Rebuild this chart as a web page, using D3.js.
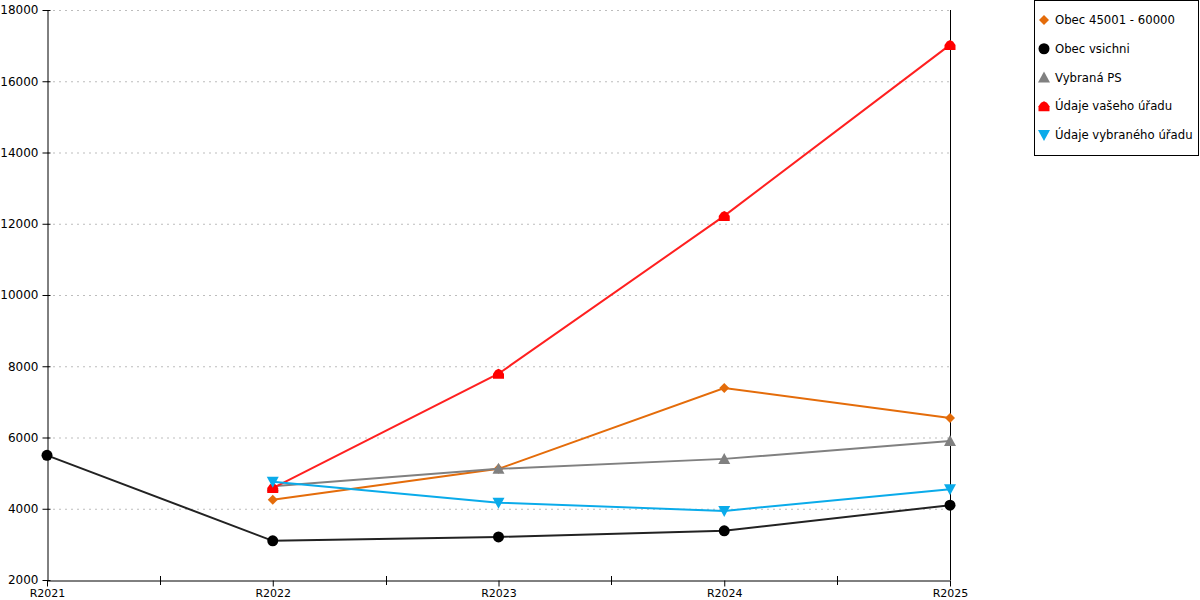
<!DOCTYPE html>
<html>
<head>
<meta charset="utf-8">
<script src="https://cdn.jsdelivr.net/npm/d3@7"></script>
<style>
  body { margin: 0; background: #fff; }
  svg { font-family: "DejaVu Sans", sans-serif; }
</style>
</head>
<body>
<svg width="1200" height="600"></svg>
<script>
// categories and tick labels
let years = ["R2021", "R2022", "R2023", "R2024", "R2025"];
let yTicks = [2000, 4000, 6000, 8000, 10000, 12000, 14000, 16000, 18000];

// series values (null = no value for that year)
let obec45001 = [null, 4250, 5120, 7390, 6550];
let obecVsichni = [5500, 3100, 3210, 3380, 4100];
let vybranaPS = [null, 4630, 5120, 5400, 5900];
let udajeVaseho = [null, 4580, 7790, 12220, 17020];
let udajeVybraneho = [null, 4760, 4170, 3940, 4550];

let seriesNames = ["Obec 45001 - 60000", "Obec vsichni", "Vybraná PS", "Údaje vašeho úřadu", "Údaje vybraného úřadu"];

let series = [
  { name: seriesNames[0], values: obec45001, color: "#E46C0A", marker: "diamond" },
  { name: seriesNames[1], values: obecVsichni, color: "#000000", marker: "circle", line: "#222" },
  { name: seriesNames[2], values: vybranaPS, color: "#808080", marker: "triangle" },
  { name: seriesNames[3], values: udajeVaseho, color: "#FF0000", marker: "house", line: "#FF2020" },
  { name: seriesNames[4], values: udajeVybraneho, color: "#0AABEA", marker: "down" }
];

let svg = d3.select("svg");

let scX = d3.scalePoint().domain(years).range([47, 950]);
let scY = d3.scaleLinear().domain([2000, 18000]).range([580, 10]);

// grid
svg.append("g").selectAll("line")
  .data(yTicks.slice(1)).enter().append("line")
  .attr("x1", 47).attr("x2", 950)
  .attr("y1", d => scY(d) + 0.5).attr("y2", d => scY(d) + 0.5)
  .attr("stroke", "#bdbdbd").attr("stroke-dasharray", "2,4");

// right border line
svg.append("line")
  .attr("x1", 950.5).attr("x2", 950.5).attr("y1", 10).attr("y2", 580)
  .attr("stroke", "#000");

// y axis
let yAxis = svg.append("g").attr("transform", "translate(47.5,0)")
  .call(d3.axisLeft(scY).tickValues(yTicks).tickFormat(d3.format("d")).tickSize(5).tickSizeOuter(0));
yAxis.select(".domain").attr("stroke", "#000");
yAxis.selectAll(".tick line").attr("x2", -5).attr("x1", 3);
yAxis.selectAll(".tick text").attr("x", -9).attr("font-size", 12)
  .attr("font-family", "DejaVu Sans").attr("fill", "#000");

// x axis
let xAxis = svg.append("g").attr("transform", "translate(0,580.5)")
  .call(d3.axisBottom(scX).tickSize(6).tickSizeOuter(0));
xAxis.select(".domain").attr("stroke", "#000");
xAxis.selectAll(".tick text").attr("y", 9).attr("font-size", 11)
  .attr("font-family", "DejaVu Sans").attr("fill", "#000");

// minor ticks halfway between categories
let step = scX.step();
svg.append("g").selectAll("line")
  .data(years.slice(1)).enter().append("line")
  .attr("x1", d => Math.round(scX(d) - step / 2) + 0.5)
  .attr("x2", d => Math.round(scX(d) - step / 2) + 0.5)
  .attr("y1", 576).attr("y2", 585).attr("stroke", "#000");

// marker shapes
let markerPath = function(type) {
  if (type === "diamond") return "M0,-5L5,0L0,5L-5,0Z";
  if (type === "triangle") return "M0,-6L6,5L-6,5Z";
  if (type === "down") return "M-6,-5L6,-5L0,6Z";
  if (type === "house") return "M-5.5,5L5.5,5L5.5,0L3,-3.5L0,-5L-3,-3.5L-5.5,0Z";
  return null;
};

let drawMarker = function(g, type, color) {
  if (type === "circle") {
    g.append("circle").attr("r", 5.5).attr("fill", color);
  } else {
    g.append("path").attr("d", markerPath(type)).attr("fill", color);
  }
};

let line = d3.line()
  .defined(d => d.v !== null)
  .x(d => scX(d.year)).y(d => scY(d.v));

series.forEach(s => {
  let pts = s.values.map((v, i) => ({ year: years[i], v: v }));
  svg.append("path")
    .datum(pts)
    .attr("d", line)
    .attr("fill", "none")
    .attr("stroke", s.line || s.color)
    .attr("stroke-width", 2);
  pts.filter(p => p.v !== null).forEach(p => {
    let g = svg.append("g").attr("transform", `translate(${scX(p.year)},${scY(p.v)})`);
    drawMarker(g, s.marker, s.color);
  });
});

// legend
let legend = svg.append("g");
legend.append("rect")
  .attr("x", 1034.5).attr("y", 0.5).attr("width", 164).attr("height", 155)
  .attr("fill", "#fff").attr("stroke", "#000");
series.forEach((s, i) => {
  let y = 20 + i * 28.75;
  let g = legend.append("g").attr("transform", `translate(1044,${y})`);
  drawMarker(g, s.marker, s.color);
  legend.append("text")
    .attr("x", 1055).attr("y", y + 4)
    .attr("font-size", 11.7).attr("font-family", "DejaVu Sans")
    .text(s.name);
});
</script>
</body>
</html>
